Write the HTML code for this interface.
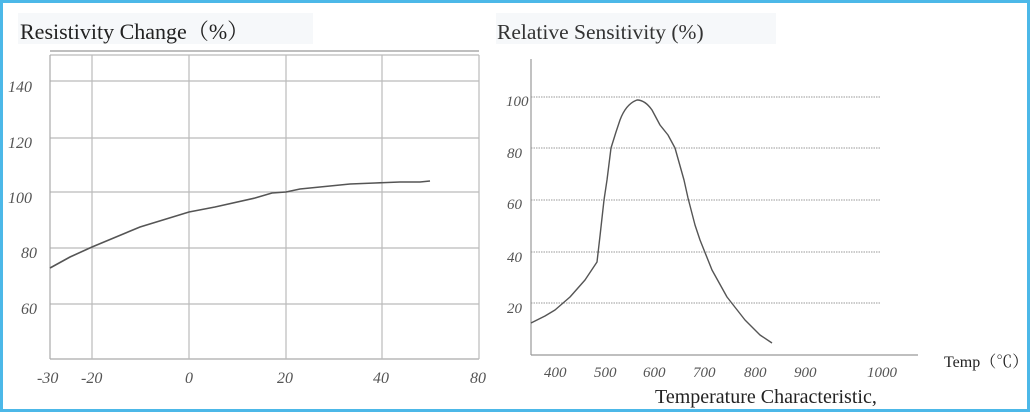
<!DOCTYPE html>
<html><head><style>
body{margin:0;background:#fff}
svg{display:block}
text{font-family:"Liberation Serif","Noto Serif CJK SC",serif}
</style></head><body>
<svg width="1030" height="412" xmlns="http://www.w3.org/2000/svg">
<rect x="1.5" y="1.5" width="1027" height="409" fill="#fff" stroke="#4cb8e8" stroke-width="3"/>
<rect x="18" y="13" width="295" height="31" fill="#f6f8fa"/>
<rect x="496" y="13" width="280" height="31" fill="#f6f8fa"/>
<text x="20" y="39" font-size="22" fill="#222">Resistivity Change（%）</text>
<text x="497" y="39" font-size="21.5" fill="#333">Relative Sensitivity (%)</text>
<g stroke="#bbb" stroke-width="1.2" fill="none">
<line x1="50" y1="51" x2="479" y2="51" stroke="#999"/>
<line x1="50" y1="55" x2="479" y2="55"/>
<line x1="50" y1="81" x2="479" y2="81"/>
<line x1="50" y1="138" x2="479" y2="138"/>
<line x1="50" y1="192" x2="479" y2="192"/>
<line x1="50" y1="248" x2="479" y2="248"/>
<line x1="50" y1="304" x2="479" y2="304"/>
<line x1="50" y1="359" x2="479" y2="359" stroke="#aaa"/>
<line x1="50" y1="55" x2="50" y2="359" stroke="#aaa"/>
<line x1="92" y1="55" x2="92" y2="359"/>
<line x1="189" y1="55" x2="189" y2="359"/>
<line x1="286" y1="55" x2="286" y2="359"/>
<line x1="382" y1="55" x2="382" y2="359"/>
<line x1="479" y1="55" x2="479" y2="359"/>
</g>
<polyline fill="none" stroke="#555" stroke-width="1.6" points="50,268 70,257 92,247 140,227 189,212 215,207 255,198 272,193 286,192 300,189 350,184 375,183 400,182 420,182 430,181"/>
<g font-size="16" font-style="italic" fill="#555">
<text x="8" y="92">140</text><text x="8" y="148">120</text><text x="8" y="203">100</text>
<text x="21" y="258">80</text><text x="21" y="314">60</text>
<text x="37" y="383">-30</text><text x="81" y="383">-20</text><text x="185" y="383">0</text>
<text x="277" y="383">20</text><text x="373" y="383">40</text><text x="470" y="383">80</text>
</g>
<g stroke="#bbb" stroke-width="1.5" stroke-dasharray="1.5,1">
<line x1="531" y1="97" x2="881" y2="97"/>
<line x1="531" y1="148" x2="881" y2="148"/>
<line x1="531" y1="200" x2="881" y2="200"/>
<line x1="531" y1="252" x2="881" y2="252"/>
<line x1="531" y1="303" x2="881" y2="303"/>
</g>
<g stroke="#999" stroke-width="1.2">
<line x1="531" y1="59" x2="531" y2="355"/>
<line x1="531" y1="355" x2="918" y2="355"/>
</g>
<path fill="none" stroke="#555" stroke-width="1.4" stroke-linejoin="round" d="M531,323 L545,316 L555,310 L570,297 L585,280 L597,262 L600,236 L604,200 L607,180 L611,148 L616,132 L620,120 Q626,104 637,100 Q645,100 652,110 L660,125 L668,135 L675,148 L684,180 L688,198 L695,225 L700,240 L712,270 L727,297 L745,320 L760,335 L772,343"/>
<g font-size="15" font-style="italic" fill="#555">
<text x="506" y="106">100</text><text x="507" y="158">80</text><text x="507" y="209">60</text>
<text x="507" y="262">40</text><text x="507" y="313">20</text>
<text x="544" y="377">400</text><text x="594" y="377">500</text><text x="643" y="377">600</text>
<text x="693" y="377">700</text><text x="744" y="377">800</text><text x="794" y="377">900</text>
<text x="867" y="377">1000</text>
</g>
<text x="944" y="367" font-size="16" fill="#222">Temp（℃）</text>
<text x="655" y="403" font-size="20" fill="#222">Temperature Characteristic,</text>
</svg>
</body></html>
